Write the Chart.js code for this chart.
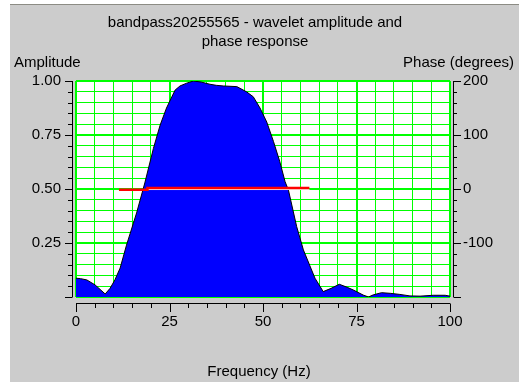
<!DOCTYPE html>
<html>
<head>
<meta charset="utf-8">
<script src="https://cdn.jsdelivr.net/npm/chart.js@4.4.0/dist/chart.umd.min.js"></script>
<style>
  body { margin: 0; background: #ffffff; }
  canvas { display: block; }
</style>
</head>
<body>
<canvas id="chart" width="519" height="382"></canvas>
<script>
// MARK: - Data
const titleLines = ['bandpass20255565 - wavelet amplitude and', 'phase response'];
const xTitle = 'Frequency (Hz)';
const ampTitle = 'Amplitude';
const phaseTitle = 'Phase (degrees)';

const freq = [0, 1.2, 2.9, 5.1, 7.8, 9.1, 10.4, 11.8, 13.5, 16.2, 18.4, 20.7, 22.5, 24.2, 26.5, 27.8, 29.6, 31.4, 33.5, 35.8, 37.5, 39.4, 43, 45.6, 47.4, 49.2, 51, 52.8, 54.5, 55.9, 56.8, 59, 60.8, 63, 63.9, 66.1, 68.2, 70.4, 72.5, 74.2, 76.8, 78.2, 79.5, 81.7, 84, 86.6, 89.3, 92, 95.5, 98.7, 100];
const amp = [0.087, 0.085, 0.079, 0.056, 0.014, 0.04, 0.079, 0.134, 0.24, 0.389, 0.528, 0.688, 0.796, 0.875, 0.958, 0.977, 0.99, 1.0, 0.995, 0.985, 0.98, 0.977, 0.974, 0.95, 0.927, 0.875, 0.81, 0.72, 0.626, 0.534, 0.495, 0.326, 0.218, 0.125, 0.087, 0.025, 0.04, 0.059, 0.045, 0.032, 0.009, 0.0, 0.01, 0.02, 0.017, 0.012, 0.005, 0.004, 0.008, 0.008, 0.004];

const phaseFreq = [11.5, 19.1, 19.1, 62.4];
const phase = [-1.5, -1.5, 2, 2];
// thin white edge under the right part of the phase line
const edgeFreq = [19.1, 62.4];
const edgePhase = [-1, -1];

const xTicks = [0, 25, 50, 75, 100];
const ampTicks = [0.25, 0.5, 0.75, 1.0];
const phaseTicks = [-100, 0, 100, 200];

const FONT = { family: 'Liberation Sans, Arial, sans-serif', size: 15 };

function pts(xs, ys) {
  return xs.map(function(x, i) { return { x: x, y: ys[i] }; });
}

// MARK: - Plugins
const backdrop = {
  id: 'backdrop',
  beforeDraw: function(chart) {
    const c = chart.ctx;
    const a = chart.chartArea;
    c.save();
    c.fillStyle = '#ffffff';
    c.fillRect(0, 0, chart.width, chart.height);
    c.fillStyle = '#cccccc';
    c.fillRect(10, 5, chart.width - 10, chart.height - 5);
    c.fillStyle = '#8c8c84';
    c.fillRect(10, 4, chart.width - 10, 1);
    c.fillStyle = '#ffffff';
    c.fillRect(a.left, a.top, a.right - a.left, a.bottom - a.top);
    c.restore();
  }
};

const axesAndText = {
  id: 'axesAndText',
  afterDraw: function(chart) {
    const c = chart.ctx;
    const a = chart.chartArea;
    const sx = chart.scales.x, sy = chart.scales.y, sy1 = chart.scales.y1;
    c.save();
    c.strokeStyle = '#000000';
    c.lineWidth = 1;
    c.beginPath();
    // left axis
    c.moveTo(72.5, a.top); c.lineTo(72.5, a.bottom);
    sy.ticks.forEach(function(t) {
      const y = Math.round(sy.getPixelForValue(t.value)) + 0.5;
      const major = Math.round(t.value * 100) % 25 === 0;
      c.moveTo(72.5, y); c.lineTo(major ? 65 : 68, y);
    });
    // right axis
    c.moveTo(453.5, a.top); c.lineTo(453.5, a.bottom);
    sy1.ticks.forEach(function(t) {
      const y = Math.round(sy1.getPixelForValue(t.value)) + 0.5;
      const major = t.value % 100 === 0;
      c.moveTo(453.5, y); c.lineTo(major ? 461 : 457, y);
    });
    // bottom axis
    c.moveTo(a.left, 303.5); c.lineTo(a.right, 303.5);
    sx.ticks.forEach(function(t) {
      const x = Math.round(sx.getPixelForValue(t.value)) + 0.5;
      const major = t.value % 25 === 0;
      c.moveTo(x, 303.5); c.lineTo(x, major ? 312 : 308);
    });
    c.stroke();

    c.fillStyle = '#000000';
    c.font = FONT.size + 'px ' + FONT.family;
    c.textBaseline = 'middle';
    c.textAlign = 'center';
    c.fillText(titleLines[0], 255, 23);
    c.fillText(titleLines[1], 255, 42);
    c.fillText(xTitle, 259, 372);
    c.textAlign = 'left';
    c.fillText(ampTitle, 14, 63);
    c.textAlign = 'right';
    c.fillText(phaseTitle, 514, 63);
    c.restore();
  }
};

// MARK: - Chart
function gridWidth(step) {
  return function(ctx) {
    return Math.round(ctx.tick.value * 100) % Math.round(step * 100) === 0 ? 2 : 1;
  };
}

const ctx = document.getElementById('chart').getContext('2d');
new Chart(ctx, {
  type: 'line',
  data: {
    datasets: [{
      label: 'Amplitude',
      data: pts(freq, amp),
      yAxisID: 'y',
      borderColor: '#000000',
      borderWidth: 1,
      backgroundColor: '#0000ff',
      fill: 'origin',
      pointRadius: 0,
      tension: 0,
      order: 3
    }, {
      label: 'edge',
      data: pts(edgeFreq, edgePhase),
      yAxisID: 'y1',
      borderColor: '#ffffff',
      borderWidth: 1,
      pointRadius: 0,
      fill: false,
      order: 2
    }, {
      label: 'Phase',
      data: pts(phaseFreq, phase),
      yAxisID: 'y1',
      borderColor: '#ff0000',
      borderWidth: 2.5,
      pointRadius: 0,
      fill: false,
      order: 1
    }]
  },
  options: {
    responsive: false,
    devicePixelRatio: 1,
    animation: false,
    events: [],
    layout: { padding: { top: 81, left: 0, right: 0, bottom: 0 } },
    plugins: {
      legend: { display: false },
      title: { display: false },
      tooltip: { enabled: false }
    },
    scales: {
      x: {
        type: 'linear',
        min: 0, max: 100,
        afterFit: function(s) { s.height = 85; },
        ticks: {
          stepSize: 5, autoSkip: false, maxRotation: 0, padding: 16,
          color: '#000000', font: FONT,
          callback: function(v) { return xTicks.includes(v) ? String(v) : ''; }
        },
        grid: { color: '#00ff00', lineWidth: gridWidth(25), drawTicks: false },
        border: { display: false }
      },
      y: {
        position: 'left',
        min: 0, max: 1,
        afterFit: function(s) { s.width = 76; },
        ticks: {
          stepSize: 0.05, autoSkip: false, padding: 15,
          color: '#000000', font: FONT,
          callback: function(v) {
            const r = Math.round(v * 100) / 100;
            return ampTicks.includes(r) ? r.toFixed(2) : '';
          }
        },
        grid: { color: '#00ff00', lineWidth: gridWidth(0.25), drawTicks: false },
        border: { display: false }
      },
      y1: {
        position: 'right',
        min: -200, max: 200,
        afterFit: function(s) { s.width = 69; },
        ticks: {
          stepSize: 20, autoSkip: false, padding: 13,
          color: '#000000', font: FONT,
          callback: function(v) { return phaseTicks.includes(v) ? String(v) : ''; }
        },
        grid: { drawOnChartArea: false, drawTicks: false },
        border: { display: false }
      }
    }
  },
  plugins: [backdrop, axesAndText]
});
</script>
</body>
</html>
